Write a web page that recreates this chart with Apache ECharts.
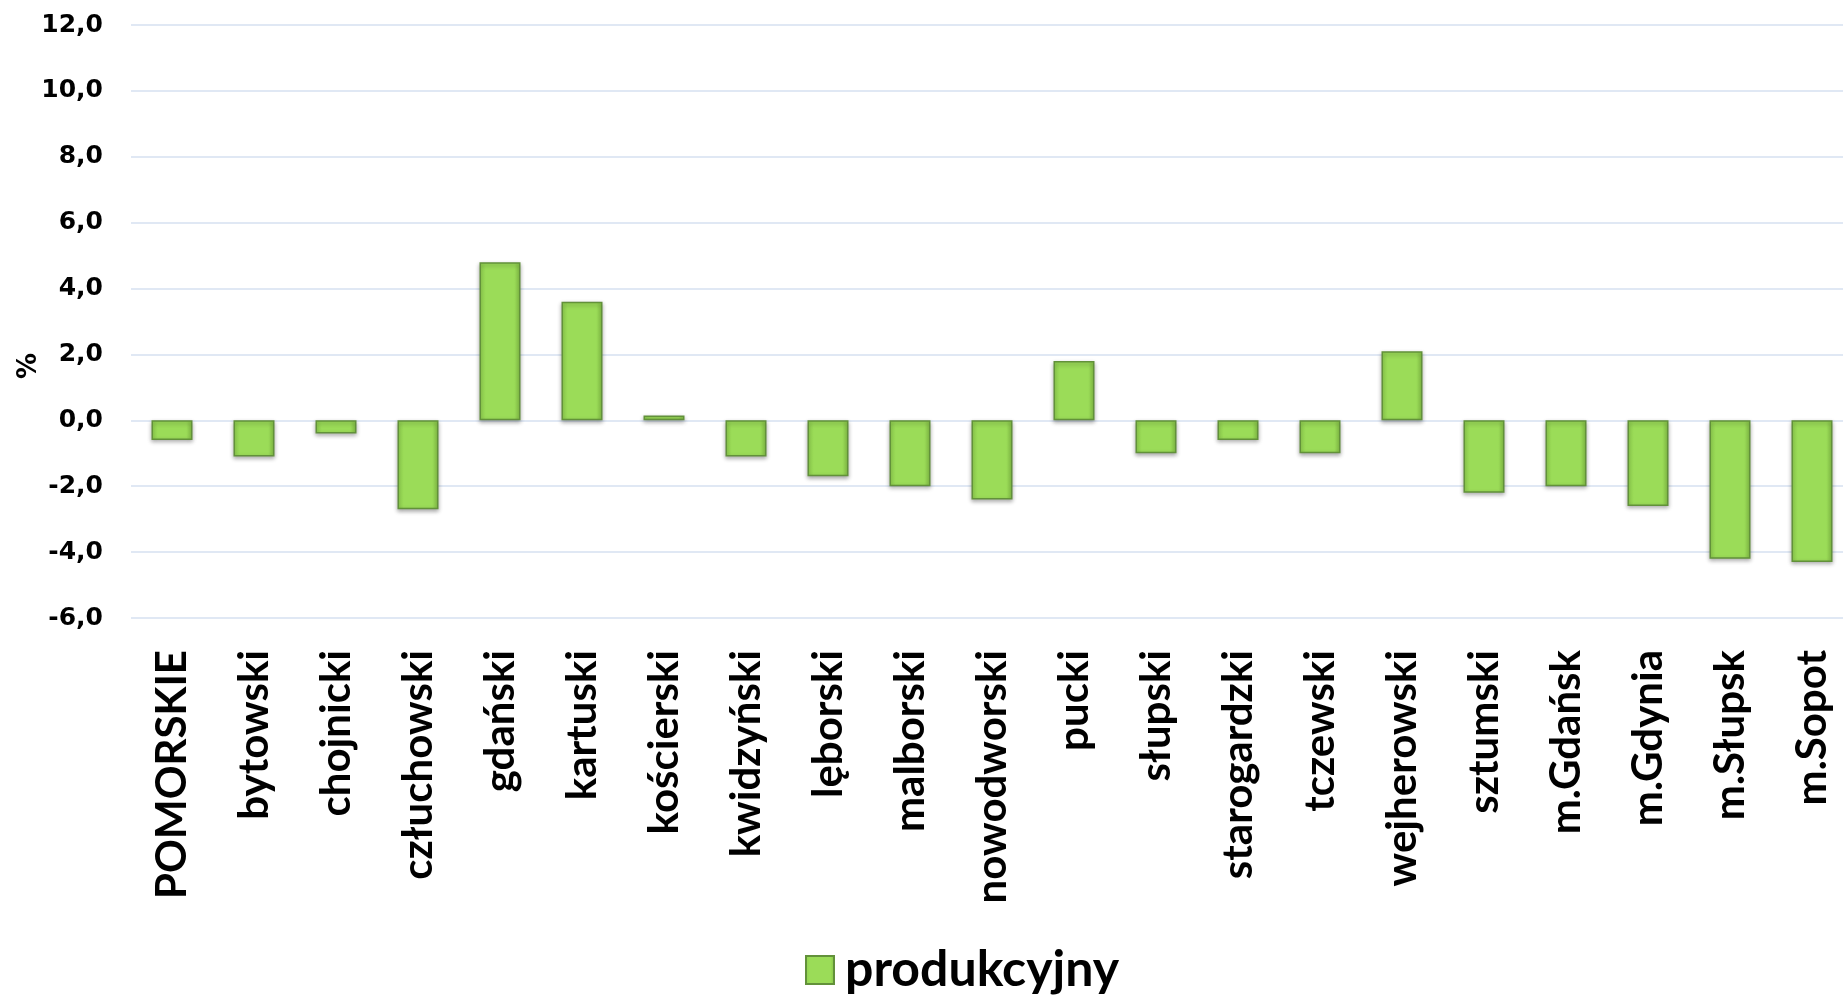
<!DOCTYPE html>
<html>
<head>
<meta charset="utf-8">
<script src="https://cdn.jsdelivr.net/npm/echarts@6/dist/echarts.min.js"></script>
<style>
    html, body { margin: 0; padding: 0; background: #fff; }
    #chart { width: 1843px; height: 997px; }
</style>
</head>
<body>
<div id="chart"></div>
<script>
// powiaty (kategorie)
var categories = ['POMORSKIE', 'bytowski', 'chojnicki', 'człuchowski', 'gdański', 'kartuski',
    'kościerski', 'kwidzyński', 'lęborski', 'malborski', 'nowodworski', 'pucki', 'słupski',
    'starogardzki', 'tczewski', 'wejherowski', 'sztumski', 'm.Gdańsk', 'm.Gdynia', 'm.Słupsk', 'm.Sopot'];
// wartości (%)
var produkcyjny = [-0.6, -1.1, -0.4, -2.7, 4.8, 3.6, 0.15, -1.1, -1.7, -2.0, -2.4, 1.8, -1.0,
    -0.6, -1.0, 2.1, -2.2, -2.0, -2.6, -4.2, -4.3];
var yMin = -6, yMax = 12, yStep = 2;

var chart = echarts.init(document.getElementById('chart'));
chart.setOption({
    backgroundColor: '#fff',
    animation: false,
    grid: { left: 131, width: 1722, top: 25, bottom: 379, containLabel: false, outerBoundsMode: 'none' },
    legend: {
        left: 800, top: 940,
        icon: 'rect',
        itemWidth: 28, itemHeight: 28,
        textStyle: { fontFamily: 'Lato', fontWeight: 'bold', fontSize: 50, color: '#000', padding: [0, 0, 0, 6] },
        data: ['produkcyjny']
    },
    graphic: [{
        type: 'text', left: 16, top: 353, rotation: Math.PI / 2,
        style: { text: '%', font: 'bold 26px "DejaVu Sans"', fill: '#000' }
    }],
    xAxis: {
        type: 'category',
        data: categories,
        position: 'bottom',
        axisLine: { show: false },
        axisTick: { show: false },
        axisLabel: {
            rotate: 90, margin: 32, interval: 0,
            fontFamily: 'Lato', fontWeight: 'bold', fontSize: 42, color: '#000'
        }
    },
    yAxis: {
        type: 'value',
        min: yMin, max: yMax, interval: yStep,
        axisLine: { show: false },
        axisTick: { show: false },
        splitLine: { lineStyle: { color: '#d6e1f0', width: 1.5 } },
        axisLabel: {
            margin: 28,
            fontFamily: 'DejaVu Sans', fontWeight: 'bold', fontSize: 25, color: '#000',
            formatter: function (v) { return v.toFixed(1).replace('.', ','); }
        }
    },
    series: [{
        name: 'produkcyjny',
        type: 'bar',
        data: produkcyjny,
        barCategoryGap: '50%',
        itemStyle: {
            color: new echarts.graphic.LinearGradient(0, 0, 1, 0, [
                { offset: 0, color: '#8fd04e' },
                { offset: 0.15, color: '#9bdc58' },
                { offset: 0.85, color: '#9bdc58' },
                { offset: 1, color: '#84c046' }
            ]),
            borderColor: '#62913a',
            borderWidth: 1.5,
            shadowColor: 'rgba(0,0,0,0.3)',
            shadowBlur: 4,
            shadowOffsetY: 2
        }
    }]
});
</script>
</body>
</html>
